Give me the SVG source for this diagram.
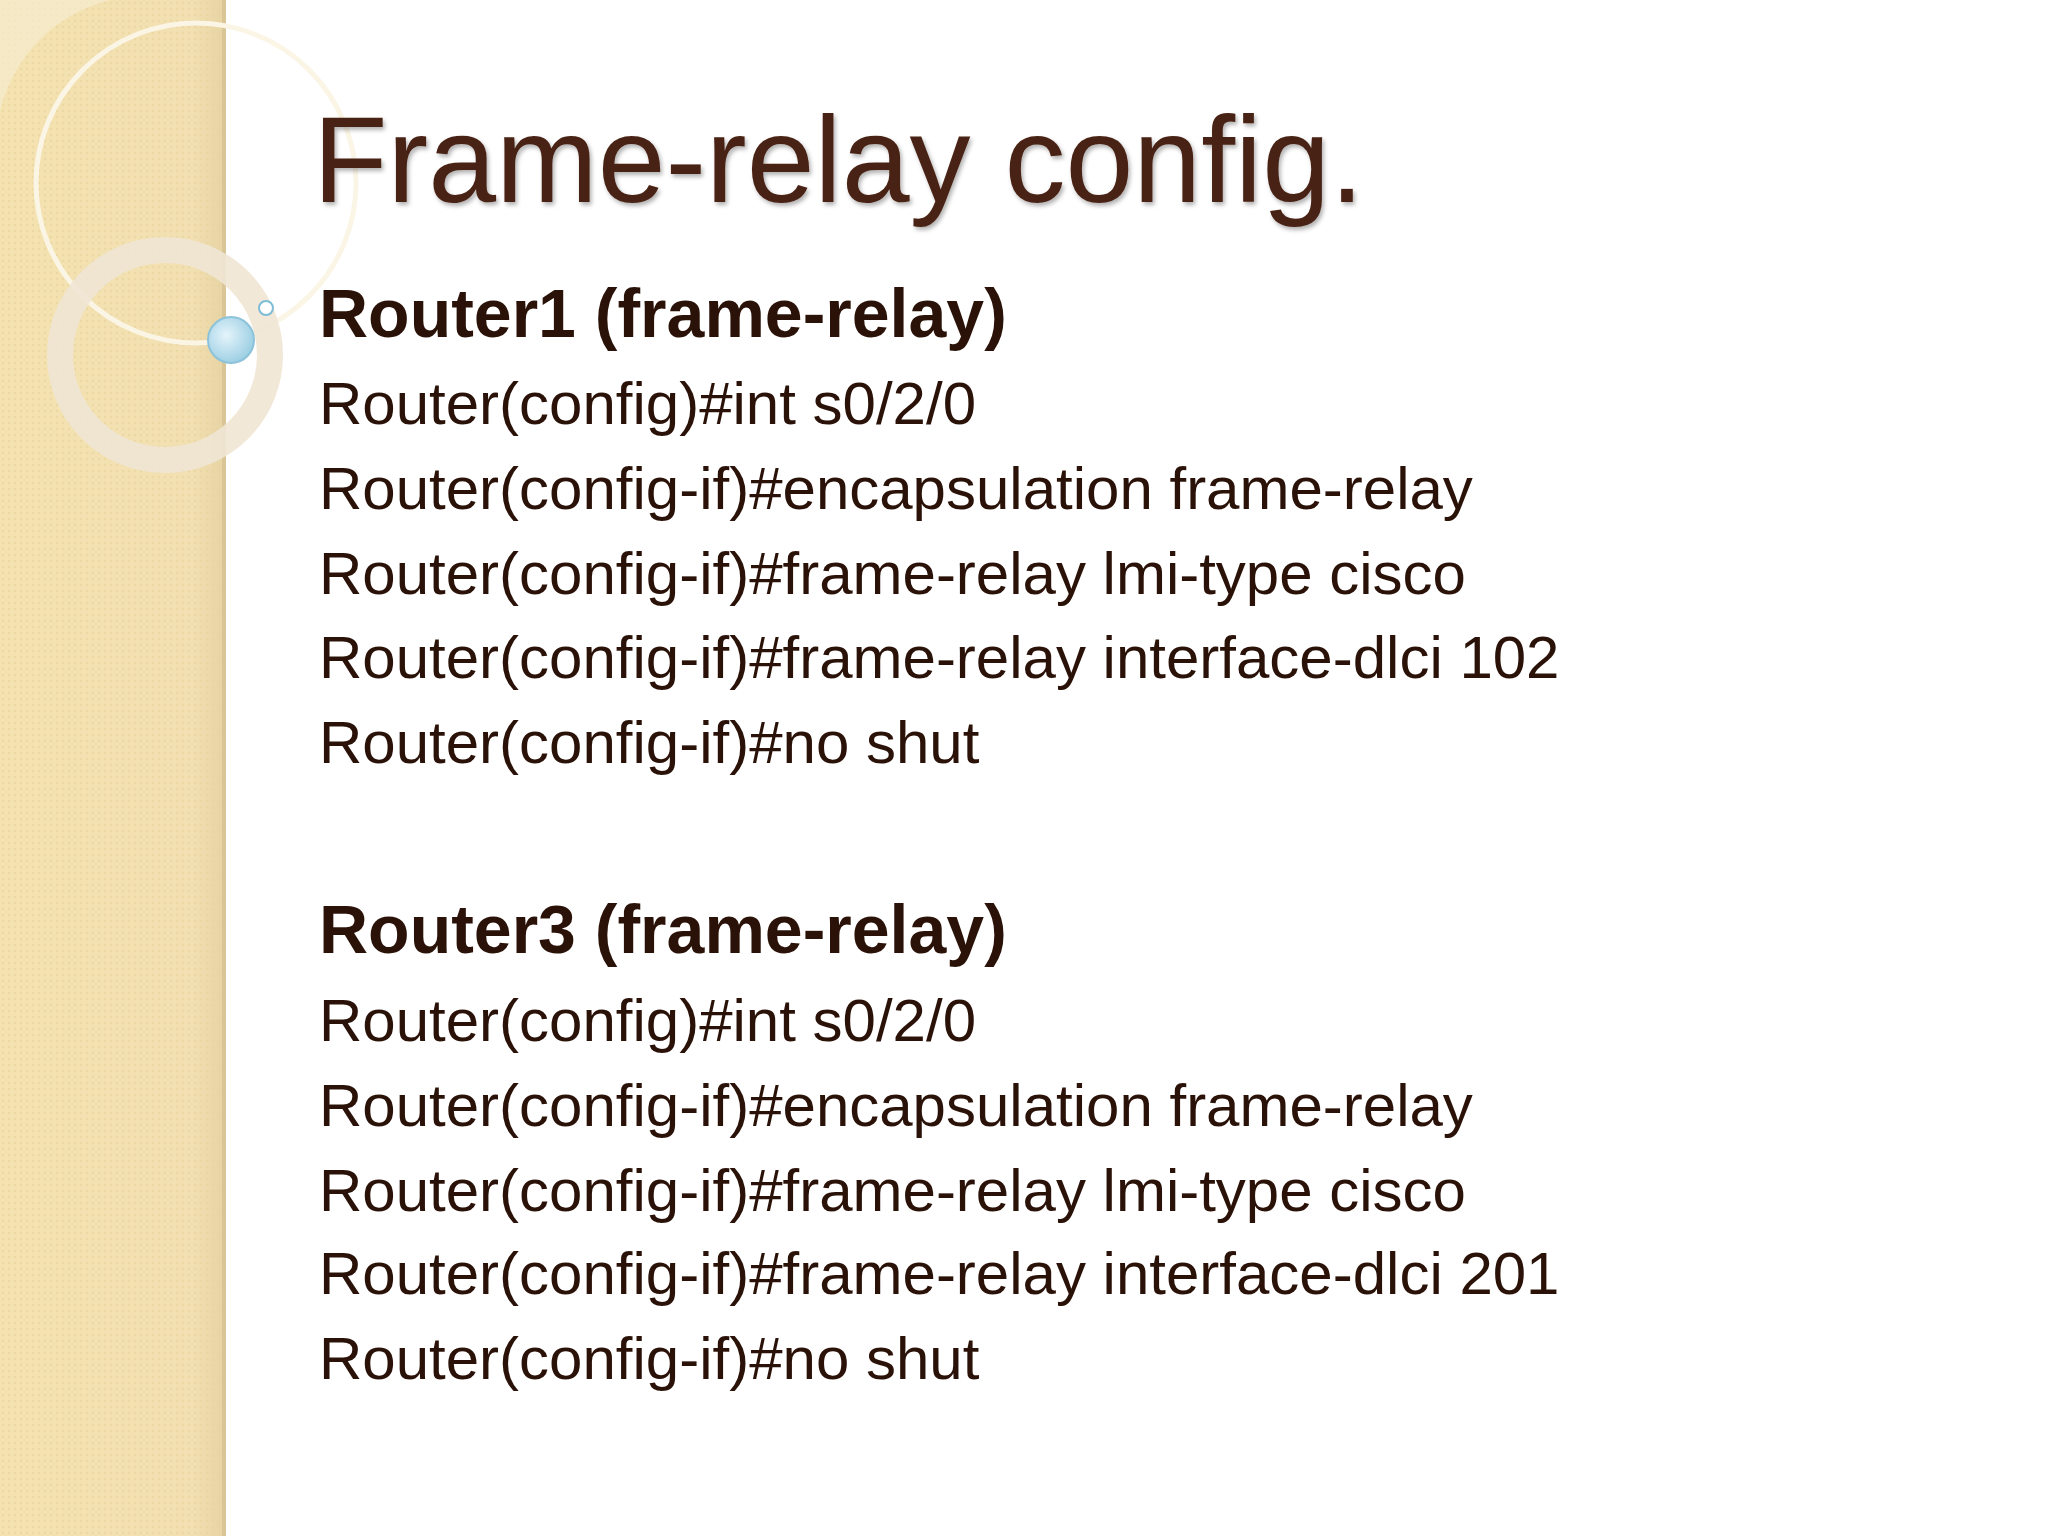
<svg xmlns="http://www.w3.org/2000/svg" width="2048" height="1536" viewBox="0 0 2048 1536">
<defs>
<linearGradient id="side" x1="0" x2="1" y1="0" y2="0">
<stop offset="0" stop-color="#f4e2b0"/><stop offset="0.85" stop-color="#f2e0b2"/><stop offset="1" stop-color="#e6d3a3"/>
</linearGradient>
<pattern id="dots" width="6" height="6" patternUnits="userSpaceOnUse"><circle cx="3" cy="3" r="1.3" fill="#e8d29c" opacity="0.6"/></pattern>
<radialGradient id="bub" cx="0.4" cy="0.4" r="0.6"><stop offset="0" stop-color="#e4f4fb"/><stop offset="1" stop-color="#9fd0e4"/></radialGradient>
<filter id="sh"><feDropShadow dx="2" dy="3" stdDeviation="2" flood-color="#000" flood-opacity="0.3"/></filter>
</defs>
<style>
.t{font-family:"Liberation Sans",Arial,sans-serif;fill:#2a1208;font-size:60px}
.h{font-weight:bold;font-size:68px}
</style>
<rect width="2048" height="1536" fill="#ffffff"/>
<rect width="226" height="1536" fill="url(#side)"/>
<rect width="226" height="1536" fill="url(#dots)"/>
<rect x="222" width="4" height="1536" fill="#d9c596"/>
<path d="M0 0 H110 A150 150 0 0 0 0 180 Z" fill="#f7ecd0" opacity="0.7"/>
<circle cx="196" cy="183" r="160" fill="none" stroke="#fbf5e6" stroke-width="5"/>
<circle cx="165" cy="355" r="105" fill="none" stroke="#efe6d4" stroke-width="26" opacity="0.9"/>
<circle cx="231" cy="340" r="23" fill="url(#bub)" stroke="#8cc3da" stroke-width="2"/>
<circle cx="266" cy="308" r="7" fill="#fff" stroke="#7fbcd6" stroke-width="2"/>
<g id="title"><text x="313" y="202" font-family="Liberation Sans,Arial,sans-serif" font-size="122" fill="#4a2416" filter="url(#sh)">Frame-relay config.</text></g>
<g id="router1">
<text class="t h" x="319" y="337">Router1 (frame-relay)</text>
<text class="t" x="319" y="424">Router(config)#int s0/2/0</text>
<text class="t" x="319" y="509">Router(config-if)#encapsulation frame-relay</text>
<text class="t" x="319" y="594">Router(config-if)#frame-relay lmi-type cisco</text>
<text class="t" x="319" y="678">Router(config-if)#frame-relay interface-dlci 102</text>
<text class="t" x="319" y="763">Router(config-if)#no shut</text>
</g>
<g id="router3">
<text class="t h" x="319" y="953">Router3 (frame-relay)</text>
<text class="t" x="319" y="1041">Router(config)#int s0/2/0</text>
<text class="t" x="319" y="1126">Router(config-if)#encapsulation frame-relay</text>
<text class="t" x="319" y="1211">Router(config-if)#frame-relay lmi-type cisco</text>
<text class="t" x="319" y="1294">Router(config-if)#frame-relay interface-dlci 201</text>
<text class="t" x="319" y="1379">Router(config-if)#no shut</text>
</g>
<g id="connectors"/>
</svg>
